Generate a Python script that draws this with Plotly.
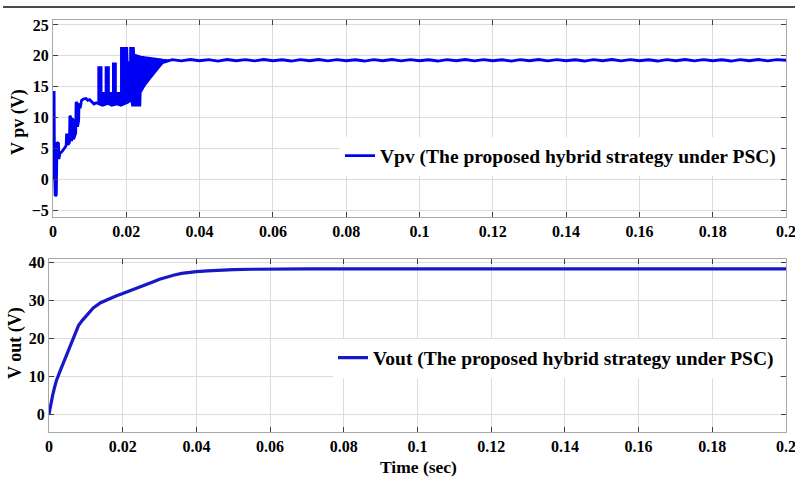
import numpy as np
import plotly.graph_objects as go

# ---------------- data: PV voltage (top) ----------------
t_pv_start = [0.0, 0.0001, 0.0003, 0.0004, 0.0006, 0.0009, 0.0010, 0.0011, 0.0015, 0.0016,
              0.0019, 0.0026, 0.0033, 0.0036, 0.0037, 0.0040, 0.0041, 0.0045, 0.0046, 0.0049,
              0.0050, 0.0052, 0.0053, 0.0055, 0.0056, 0.0062, 0.0063, 0.0066, 0.0067, 0.0070,
              0.0071, 0.0074, 0.0078, 0.0083, 0.0090, 0.0095, 0.0100, 0.0106, 0.0112, 0.0118,
              0.0123]
v_pv_start = [0.0, 14.3, 14.3, 2.0, -2.7, -2.5, 1.0, 6.0, 5.8, 3.3,
              4.2, 4.6, 5.2, 5.5, 7.2, 7.2, 5.6, 6.0, 10.3, 10.0,
              6.2, 6.5, 9.8, 9.6, 6.5, 7.5, 12.5, 12.3, 8.5, 9.5,
              12.3, 11.5, 12.8, 13.0, 13.1, 12.8, 12.9, 12.5, 12.2, 12.4,
              12.3]

# switching band (upper / lower envelope of the fast oscillation)
band_t_hi = [0.0123, 0.0123, 0.0133, 0.0133, 0.0143, 0.0143, 0.0153, 0.0153, 0.0163, 0.0163,
             0.0172, 0.0172, 0.0185, 0.0185, 0.0203, 0.0204, 0.0210, 0.0210, 0.0221, 0.0222,
             0.0240, 0.0260, 0.0280, 0.0300, 0.0315]
band_v_hi = [12.5, 18.2, 18.2, 14.0, 14.0, 18.2, 18.2, 14.0, 14.0, 18.8,
             18.8, 14.0, 14.0, 21.3, 21.3, 19.0, 19.0, 21.3, 21.3, 20.2,
             19.9, 19.7, 19.5, 19.4, 19.3]
band_t_lo = [0.0123, 0.0135, 0.0150, 0.0160, 0.0175, 0.0185, 0.0205, 0.0214, 0.0217, 0.0237,
             0.0238, 0.0250, 0.0263, 0.0272, 0.0281, 0.0290, 0.0299, 0.0315]
band_v_lo = [12.2, 12.0, 12.3, 12.0, 12.2, 12.0, 12.5, 13.0, 12.0, 12.0,
             14.1, 15.3, 16.3, 17.0, 17.6, 18.3, 18.9, 19.2]

# steady state with small ripple
t_pv_ss = list(np.linspace(0.0325, 0.2, 68))
v_pv_ss = [19.38, 19.18, 19.40, 19.20, 19.38, 19.16, 19.40, 19.20, 19.38, 19.18,
           19.40, 19.20, 19.36, 19.16, 19.38, 19.20, 19.40, 19.18, 19.38, 19.20,
           19.36, 19.16, 19.38, 19.20, 19.40, 19.18, 19.38, 19.20, 19.36, 19.16,
           19.38, 19.20, 19.40, 19.18, 19.38, 19.20, 19.36, 19.16, 19.38, 19.20,
           19.40, 19.18, 19.38, 19.20, 19.36, 19.16, 19.38, 19.20, 19.40, 19.18,
           19.38, 19.20, 19.36, 19.16, 19.38, 19.20, 19.40, 19.18, 19.38, 19.20,
           19.36, 19.16, 19.38, 19.20, 19.40, 19.18, 19.38, 19.28]

# ---------------- data: output voltage (bottom) ----------------
t_out = [0, 0.0005, 0.001, 0.0015, 0.002, 0.003, 0.004, 0.005, 0.006, 0.007,
         0.008, 0.009, 0.010, 0.012, 0.014, 0.016, 0.018, 0.020, 0.022, 0.024,
         0.026, 0.028, 0.030, 0.032, 0.034, 0.036, 0.038, 0.040, 0.043, 0.046,
         0.050, 0.055, 0.060, 0.070, 0.080, 0.090, 0.100, 0.110, 0.120, 0.130,
         0.140, 0.150, 0.160, 0.170, 0.180, 0.190, 0.200]
v_out = [0, 2.8, 5.0, 7.0, 8.8, 11.3, 13.8, 16.2, 18.6, 21.0,
         23.3, 24.6, 25.7, 27.9, 29.3, 30.2, 31.0, 31.7, 32.4, 33.1,
         33.9, 34.7, 35.5, 36.1, 36.6, 37.0, 37.3, 37.5, 37.7, 37.9,
         38.0, 38.1, 38.2, 38.2, 38.2, 38.1, 38.2, 38.2, 38.1, 38.2,
         38.2, 38.1, 38.2, 38.2, 38.1, 38.2, 38.2]

x_ticks = [0, 0.02, 0.04, 0.06, 0.08, 0.1, 0.12, 0.14, 0.16, 0.18, 0.2]
x_ticktext = ["0", "0.02", "0.04", "0.06", "0.08", "0.1", "0.12", "0.14", "0.16", "0.18", "0.2"]
y1_ticks = [-5, 0, 5, 10, 15, 20, 25]
y2_ticks = [0, 10, 20, 30, 40]

W, H = 795, 482
FONT = "Liberation Serif"
BLUE1 = "#0000f5"
BLUE2 = "#1818c8"

fig = go.Figure()

# band polygon (fast switching region)
fig.add_trace(go.Scatter(
    x=band_t_hi + band_t_lo[::-1], y=band_v_hi + band_v_lo[::-1],
    mode="lines", fill="toself", fillcolor=BLUE1,
    line=dict(color=BLUE1, width=1.5), showlegend=False, hoverinfo="skip",
    xaxis="x", yaxis="y"))

fig.add_trace(go.Scatter(
    x=t_pv_start + band_t_lo + t_pv_ss, y=v_pv_start + band_v_lo + v_pv_ss,
    mode="lines", line=dict(color=BLUE1, width=2.8),
    name="Vpv (The proposed hybrid strategy under PSC)",
    xaxis="x", yaxis="y", legend="legend"))

fig.add_trace(go.Scatter(
    x=t_out, y=v_out, mode="lines", line=dict(color=BLUE2, width=3.2),
    name="Vout (The proposed hybrid strategy under PSC)",
    xaxis="x2", yaxis="y2", legend="legend2"))

tickfont = dict(family=FONT, size=16, color="black", weight="bold")
common_axis = dict(showgrid=True, gridcolor="#dcdcdc", gridwidth=1,
                   showline=True, linecolor="#a8a8a8", linewidth=1, mirror="ticks",
                   ticks="inside", ticklen=5, tickcolor="#404040", tickwidth=1,
                   zeroline=False, tickfont=tickfont, ticklabeloverflow="allow",
                   automargin=False)

fig.update_layout(
    width=W, height=H, margin=dict(l=0, r=0, t=0, b=0, pad=0),
    paper_bgcolor="white", plot_bgcolor="white",
    xaxis=dict(domain=[53 / W, 786 / W], range=[0, 0.2], tickvals=x_ticks, ticktext=x_ticktext,
               anchor="y", **common_axis),
    yaxis=dict(domain=[1 - 217 / H, 1 - 20 / H], range=[-6.1, 25.8], tickvals=y1_ticks,
               anchor="x", **common_axis),
    xaxis2=dict(domain=[49 / W, 786 / W], range=[0, 0.2], tickvals=x_ticks, ticktext=x_ticktext,
                anchor="y2", **common_axis),
    yaxis2=dict(domain=[1 - 432 / H, 1 - 259 / H], range=[-4.7, 40.8], tickvals=y2_ticks,
                anchor="x2", **common_axis),
    legend=dict(x=340 / W, y=1 - 156 / H, xanchor="left", yanchor="middle",
                bgcolor="white", borderwidth=0, itemwidth=30,
                font=dict(family=FONT, size=19.5, color="black", weight="bold")),
    legend2=dict(x=333 / W, y=1 - 358 / H, xanchor="left", yanchor="middle",
                 bgcolor="white", borderwidth=0, itemwidth=30,
                 font=dict(family=FONT, size=19.5, color="black", weight="bold")),
    annotations=[
        dict(text="V pv (V)", x=18 / W, y=1 - 122 / H, xref="paper", yref="paper",
             textangle=-90, showarrow=False, xanchor="center", yanchor="middle",
             font=dict(family=FONT, size=18, color="black", weight="bold")),
        dict(text="V out (V)", x=15 / W, y=1 - 343 / H, xref="paper", yref="paper",
             textangle=-90, showarrow=False, xanchor="center", yanchor="middle",
             font=dict(family=FONT, size=18, color="black", weight="bold")),
        dict(text="Time (sec)", x=418 / W, y=1 - 467 / H, xref="paper", yref="paper",
             showarrow=False, xanchor="center", yanchor="middle",
             font=dict(family=FONT, size=17.5, color="black", weight="bold")),
    ],
    shapes=[dict(type="line", xref="paper", yref="paper", x0=3 / W, x1=1, y0=1 - 7 / H, y1=1 - 7 / H,
                 line=dict(color="#4a4a4a", width=2))],
)

fig.write_html("out.html")
